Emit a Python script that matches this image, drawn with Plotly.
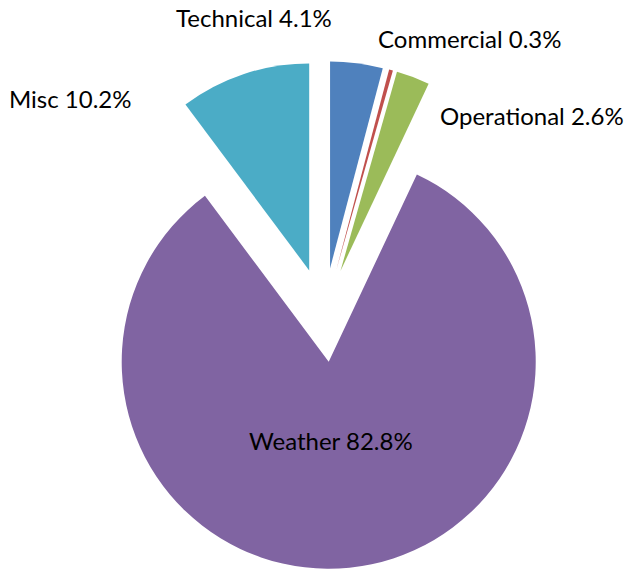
import plotly.graph_objects as go

labels = ["Technical", "Commercial", "Operational", "Weather", "Misc"]
values = [4.1, 0.3, 2.6, 82.8, 10.2]
colors = ["#4F81BD", "#C0504D", "#9BBB59", "#8064A2", "#4BACC6"]

W, H = 625, 569
ML, MR, MT, MB = 70, 47, 61, 0
FONT = "Lato, 'Liberation Sans', sans-serif"

texts = [f"{l} {v}%" for l, v in zip(labels, values)]

fig = go.Figure(go.Pie(
    labels=labels,
    values=values,
    sort=False,
    direction="clockwise",
    rotation=0,
    pull=[0.227] * len(values),
    marker=dict(colors=colors, line=dict(color="white", width=0)),
    text=texts,
    textinfo="none",
    hoverinfo="label+percent",
    showlegend=False,
))

# label anchor positions (pixels in page)
label_pos = {
    "Technical": (254, 18),
    "Commercial": (470, 38),
    "Operational": (532, 115),
    "Misc": (70, 98),
    "Weather": (331, 440),
}

def px_to_paper(x, y):
    return (x - ML) / (W - ML - MR), 1 - (y - MT) / (H - MT - MB)

for t, l in zip(texts, labels):
    px, py = px_to_paper(*label_pos[l])
    fig.add_annotation(x=px, y=py, xref="paper", yref="paper", text=t,
                       showarrow=False, xanchor="center", yanchor="middle",
                       font=dict(family=FONT, size=24, color="black"))

fig.update_layout(
    width=W, height=H,
    margin=dict(l=ML, r=MR, t=MT, b=MB),
    paper_bgcolor="white",
    plot_bgcolor="white",
    font=dict(family=FONT, size=24, color="black"),
)

fig.write_html("out.html", config={"displayModeBar": False},
               post_script="document.body.style.margin='0';")
